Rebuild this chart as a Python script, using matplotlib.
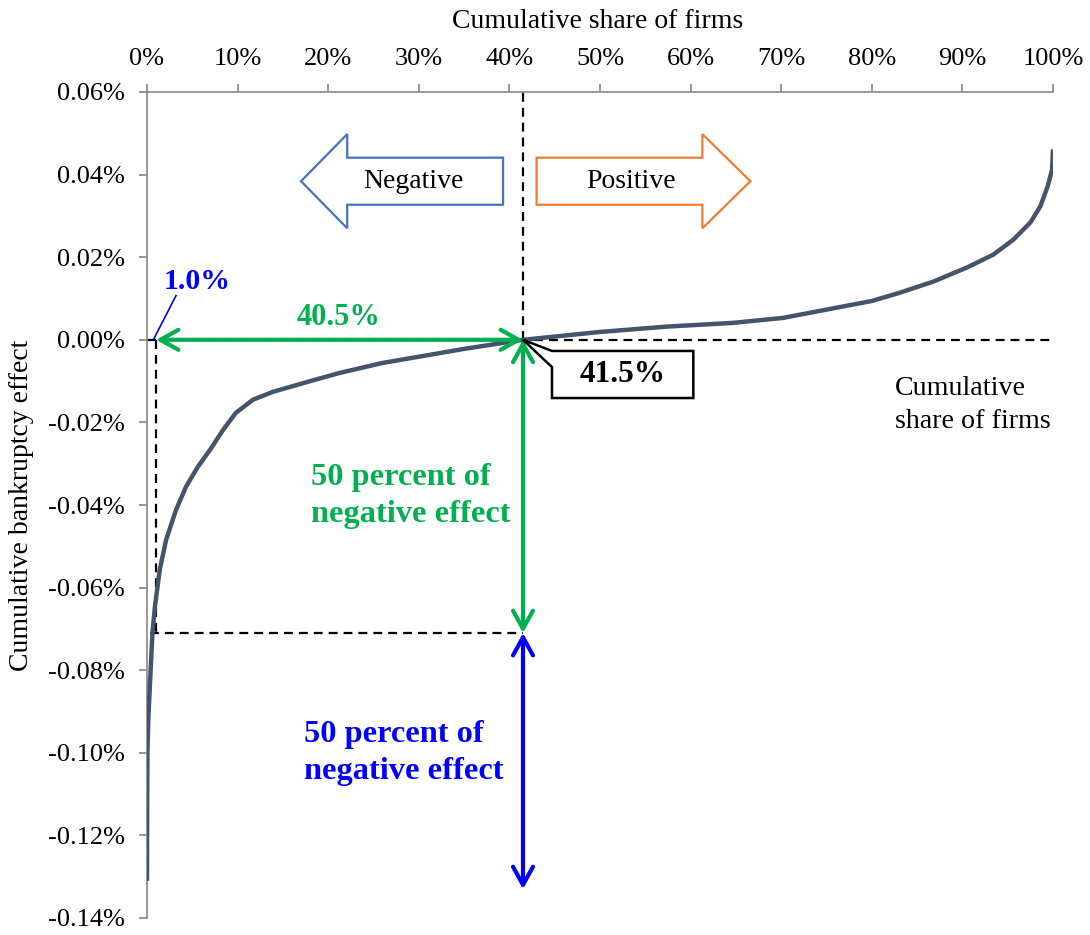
import numpy as np
import matplotlib.pyplot as plt
from matplotlib.patches import Polygon
from matplotlib.ticker import FuncFormatter

plt.rcParams['font.family'] = ['Liberation Serif', 'DejaVu Serif']

# ===== DATA =====
share = [0, 0.02, 0.05, 0.15, 0.33, 0.6, 0.88, 1.4, 2.1, 3.2, 4.3, 5.6, 7.1,
         8.4, 9.8, 11.7, 13.9, 17.7, 21.3, 26, 30, 35, 41.5, 50, 57.4, 64.7,
         70.2, 75.7, 80, 83.1, 86.8, 90.5, 93.4, 95.6, 97.5, 98.6, 99.4,
         99.9, 100]
effect = [-0.131, -0.111, -0.0994, -0.0914, -0.0832, -0.071, -0.0645,
          -0.0558, -0.0485, -0.0412, -0.0356, -0.0308, -0.0262, -0.0218,
          -0.0177, -0.0145, -0.0126, -0.0102, -0.008, -0.0056, -0.0041,
          -0.0022, 0.0, 0.0019, 0.0032, 0.0041, 0.0053, 0.0076, 0.0094,
          0.0114, 0.0141, 0.0175, 0.0206, 0.0242, 0.0284, 0.0323, 0.0371,
          0.0412, 0.0461]

x_ticks = list(range(0, 101, 10))
y_ticks = [-0.14, -0.12, -0.10, -0.08, -0.06, -0.04, -0.02, 0.0, 0.02, 0.04, 0.06]

split_share = 41.5     # share of firms where effect crosses zero
start_share = 1.0      # share where the 40.5% stretch starts
half_negative = -0.071 # half of the total negative effect
min_negative = -0.133  # bottom of the blue arrow

# ===== COLOURS =====
curve_col = '#44546A'
green = '#00B050'
blue = '#0000FF'
neg_col = '#4472C4'
pos_col = '#ED7D31'
axis_gray = '#868686'

fig = plt.figure(figsize=(10.9, 9.35), dpi=100)
ax = fig.add_axes([147 / 1090, 1 - 918 / 935, (1053 - 147) / 1090, (918 - 92) / 935])

ax.set_xlim(0, 100)
ax.set_ylim(-0.14, 0.06)
ax.xaxis.tick_top()
ax.set_xticks(x_ticks)
ax.set_yticks(y_ticks)
ax.xaxis.set_major_formatter(FuncFormatter(lambda v, p: f'{v:.0f}%'))
ax.yaxis.set_major_formatter(FuncFormatter(lambda v, p: f'{v:.2f}%'))
ax.tick_params(axis='both', direction='out', length=6, width=1.2,
               color=axis_gray, labelsize=19, pad=10)
for s in ['right', 'bottom']:
    ax.spines[s].set_visible(False)
for s in ['left', 'top']:
    ax.spines[s].set_color(axis_gray)
    ax.spines[s].set_linewidth(1.2)

# ===== GUIDE LINES (dashed) =====
dash = dict(color='black', lw=1.6, linestyle=(0, (4, 2.7)), zorder=2)
ax.plot([0, 100], [0, 0], **dash)
ax.plot([split_share, split_share], [0, 0.06], **dash)
ax.plot([start_share, start_share], [0, half_negative], **dash)
ax.plot([0.3, split_share], [half_negative, half_negative], **dash)

# ===== CURVE =====
ax.plot(share, effect, color=curve_col, lw=3.2, zorder=4,
        solid_capstyle='butt', solid_joinstyle='round')

# ===== DOUBLE ARROWS =====
def dbl_arrow(p0, p1, col):
    ax.annotate('', xy=p1, xytext=p0,
                arrowprops=dict(arrowstyle='<->,head_length=0.65,head_width=0.36',
                                color=col, lw=3, mutation_scale=20,
                                shrinkA=0, shrinkB=0), zorder=5)

dbl_arrow((start_share, 0), (split_share, 0), green)
dbl_arrow((split_share, 0), (split_share, half_negative), green)
dbl_arrow((split_share, half_negative), (split_share, min_negative), blue)

# ===== BLOCK ARROWS =====
yc, hb, hh = 0.0384, 0.0057, 0.0114
neg = Polygon([(17.0, yc), (22.1, yc + hh), (22.1, yc + hb), (39.3, yc + hb),
               (39.3, yc - hb), (22.1, yc - hb), (22.1, yc - hh)],
              closed=True, facecolor='white', edgecolor=neg_col, lw=1.6, zorder=3)
pos = Polygon([(43.0, yc + hb), (61.3, yc + hb), (61.3, yc + hh), (66.6, yc),
               (61.3, yc - hh), (61.3, yc - hb), (43.0, yc - hb)],
              closed=True, facecolor='white', edgecolor=pos_col, lw=1.6, zorder=3)
ax.add_patch(neg)
ax.add_patch(pos)
ax.text(29.4, yc, 'Negative', fontsize=20, ha='center', va='center', zorder=6)
ax.text(53.4, yc, 'Positive', fontsize=20, ha='center', va='center', zorder=6)

# ===== 41.5% CALLOUT =====
bx0, bx1, by0, by1 = 44.7, 60.3, -0.0141, -0.0027
callout = Polygon([(split_share, 0), (bx0, by1), (bx1, by1), (bx1, by0),
                   (bx0, by0), (bx0, -0.0066)],
                  closed=True, facecolor='white', edgecolor='black', lw=1.8, zorder=6)
ax.add_patch(callout)
ax.text((bx0 + bx1) / 2, (by0 + by1) / 2, f'{split_share:.1f}%', fontsize=22.5,
        fontweight='bold', ha='center', va='center', zorder=7)

# ===== LABELS =====
ax.plot([0.7, 3.2], [0.0, 0.0107], color=blue, lw=1.2, zorder=6)
ax.text(5.5, 0.0141, f'{start_share:.1f}%', color=blue, fontsize=21.5,
        fontweight='bold', ha='center', va='center')
ax.text(21.1, 0.0053, f'{split_share - start_share:.1f}%', color=green, fontsize=22,
        fontweight='bold', ha='center', va='center')
ax.text(18.1, -0.0378, '50 percent of\nnegative effect', color=green, fontsize=23.3,
        fontweight='bold', ha='left', va='center', linespacing=1.35)
ax.text(17.3, -0.100, '50 percent of\nnegative effect', color=blue, fontsize=23.3,
        fontweight='bold', ha='left', va='center', linespacing=1.35)
ax.text(82.6, -0.0158, 'Cumulative\nshare of firms', fontsize=20.2,
        ha='left', va='center', linespacing=1.4)

fig.text(598 / 1090, 1 - 22 / 935, 'Cumulative share of firms', fontsize=20,
         ha='center', va='center')
fig.text(22 / 1090, 1 - 505 / 935, 'Cumulative bankruptcy effect', fontsize=20,
         ha='center', va='center', rotation=90)

fig.savefig('out.png', dpi=100)
